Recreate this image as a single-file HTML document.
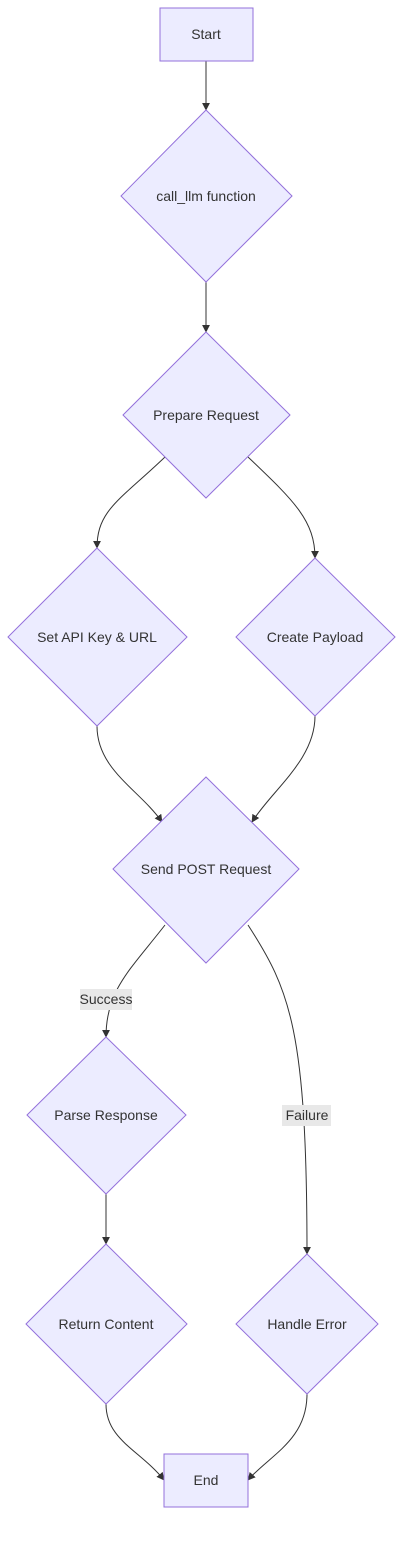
<!DOCTYPE html>
<html><head><meta charset="utf-8"><style>
html,body{margin:0;padding:0;background:#fff;}
svg{display:block;}
text{font-family:"Liberation Sans",sans-serif;font-size:14px;fill:#333;}
.n{fill:#ECECFF;stroke:#9370DB;stroke-width:1;}
.e{fill:none;stroke:#333;stroke-width:1;}
</style></head><body>
<svg width="411" height="1543" viewBox="0 0 411 1543" xmlns="http://www.w3.org/2000/svg">
<defs><marker id="a" viewBox="0 0 10 10" refX="9" refY="5" markerWidth="8" markerHeight="8" orient="auto"><path d="M0,0L10,5L0,10z" fill="#333"/></marker></defs>
<path class="e" marker-end="url(#a)" d="M206,61L206,110"/>
<path class="e" marker-end="url(#a)" d="M206,282L206,332"/>
<path class="e" marker-end="url(#a)" d="M165,457C120,500 97,510 97,548"/>
<path class="e" marker-end="url(#a)" d="M248,457C293,500 315,520 315,558"/>
<path class="e" marker-end="url(#a)" d="M97,726C97,770 140,790 162,822"/>
<path class="e" marker-end="url(#a)" d="M315,716C315,760 272,790 252,822"/>
<path class="e" marker-end="url(#a)" d="M165,925C130,970 106,990 106,1037"/>
<path class="e" marker-end="url(#a)" d="M248,925C290,990 307,1030 307,1254"/>
<path class="e" marker-end="url(#a)" d="M106,1194L106,1244"/>
<path class="e" marker-end="url(#a)" d="M106,1404C106,1440 140,1450 164,1480"/>
<path class="e" marker-end="url(#a)" d="M307,1394C307,1440 270,1455 248,1480"/>
<rect x="80" y="989" width="52" height="21" fill="#e8e8e8"/>
<text x="106" y="1004" text-anchor="middle">Success</text>
<rect x="282" y="1105" width="49" height="21" fill="#e8e8e8"/>
<text x="307" y="1120" text-anchor="middle">Failure</text>
<rect class="n" x="160" y="8" width="93" height="53"/>
<text x="206" y="39" text-anchor="middle">Start</text>
<polygon class="n" points="206,110 292,196 206,282 121,196"/>
<text x="206" y="201" text-anchor="middle">call_llm function</text>
<polygon class="n" points="206,332 290,415 206,498 123,415"/>
<text x="206" y="420" text-anchor="middle">Prepare Request</text>
<polygon class="n" points="97,548 187,637 97,726 8,637"/>
<text x="97" y="642" text-anchor="middle">Set API Key &amp; URL</text>
<polygon class="n" points="315,558 395,637 315,716 236,637"/>
<text x="315" y="642" text-anchor="middle">Create Payload</text>
<polygon class="n" points="206,777 299,869 206,963 113,869"/>
<text x="206" y="874" text-anchor="middle">Send POST Request</text>
<polygon class="n" points="106,1037 186,1115 106,1194 27,1115"/>
<text x="106" y="1120" text-anchor="middle">Parse Response</text>
<polygon class="n" points="106,1244 187,1324 106,1404 26,1324"/>
<text x="106" y="1329" text-anchor="middle">Return Content</text>
<polygon class="n" points="307,1254 378,1324 307,1394 236,1324"/>
<text x="307" y="1329" text-anchor="middle">Handle Error</text>
<rect class="n" x="164" y="1454" width="84" height="53"/>
<text x="206" y="1485" text-anchor="middle">End</text>
</svg>
</body></html>
